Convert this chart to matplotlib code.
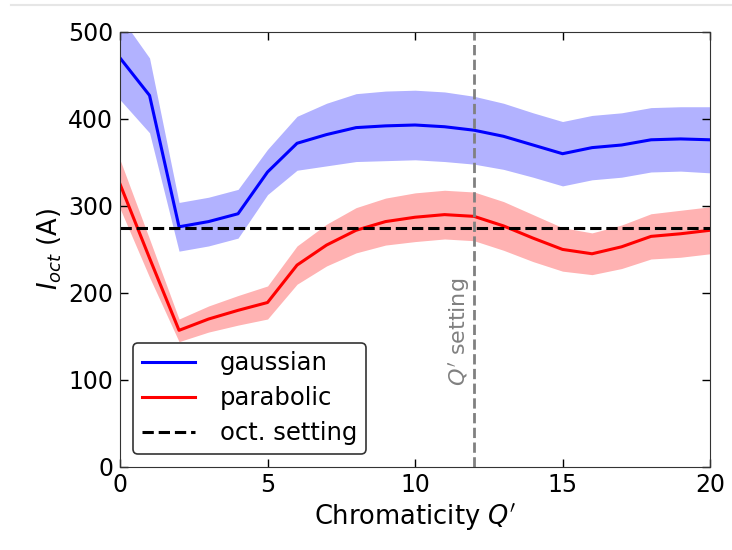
import numpy as np
import matplotlib
matplotlib.use("Agg")
import matplotlib.pyplot as plt
from matplotlib.lines import Line2D

# chromaticity scan
q = np.arange(0, 21)

gauss_mean = [470, 427, 276, 282, 291, 339, 372, 382, 390, 392, 393,
              391, 387, 380, 370, 360, 367, 370, 376, 377, 376]
gauss_err = [48, 43, 28, 28, 28, 26, 31, 36, 39, 40, 40,
             40, 39, 38, 37, 37, 37, 37, 37, 37, 38]

parab_mean = [325, 240, 157, 170, 180, 189, 232, 255, 272, 282, 287,
              290, 288, 277, 263, 250, 245, 253, 265, 268, 272]
parab_err = [28, 22, 13, 15, 17, 19, 22, 24, 26, 27, 28,
             28, 28, 28, 27, 25, 24, 25, 26, 27, 27]

oct_setting = 275
q_setting = 12

gauss_mean = np.array(gauss_mean)
gauss_err = np.array(gauss_err)
parab_mean = np.array(parab_mean)
parab_err = np.array(parab_err)

fig = plt.figure(figsize=(7.32, 5.5), dpi=100)
ax = fig.add_axes([0.164, 0.151, 0.806, 0.791])

ax.fill_between(q, gauss_mean - gauss_err, gauss_mean + gauss_err,
                color='blue', alpha=0.3, linewidth=0)
ax.fill_between(q, parab_mean - parab_err, parab_mean + parab_err,
                color='red', alpha=0.3, linewidth=0)
ax.plot(q, gauss_mean, color='blue', lw=2.2, label='gaussian')
ax.plot(q, parab_mean, color='red', lw=2.2, label='parabolic')
ax.axhline(oct_setting, color='black', ls='--', lw=2.2, label='oct. setting')
ax.axvline(q_setting, color='gray', ls='--', lw=2)
ax.text(q_setting - 0.5, 155, "$Q'$ setting", rotation=90, color='gray',
        fontsize=16, ha='center', va='center')

ax.set_xlim(0, 20)
ax.set_ylim(0, 500)
ax.set_xticks([0, 5, 10, 15, 20])
ax.set_yticks([0, 100, 200, 300, 400, 500])
ax.tick_params(direction='in', top=True, right=True, labelsize=17,
               length=6, width=1)
ax.tick_params(axis='x', pad=4)
ax.tick_params(axis='y', pad=5)
for s in ax.spines.values():
    s.set_color('#333333')

ax.set_xlabel("Chromaticity $Q'$", fontsize=18.5, labelpad=3)
ax.set_ylabel("$I_{oct}$ (A)", fontsize=18.5, labelpad=3)

leg = ax.legend(loc='lower left', fontsize=17.5, fancybox=True, framealpha=1,
                handlelength=2.2, handletextpad=1.0, borderpad=0.35,
                labelspacing=0.45, borderaxespad=0.55)
leg.get_frame().set_edgecolor('#333333')
leg.get_frame().set_linewidth(1.2)

# faint border line at top of the screenshot
fig.add_artist(Line2D([0.015, 1.0], [0.991, 0.991], color='#e6e6e6', lw=1.5))

fig.savefig('out.png', dpi=100)
